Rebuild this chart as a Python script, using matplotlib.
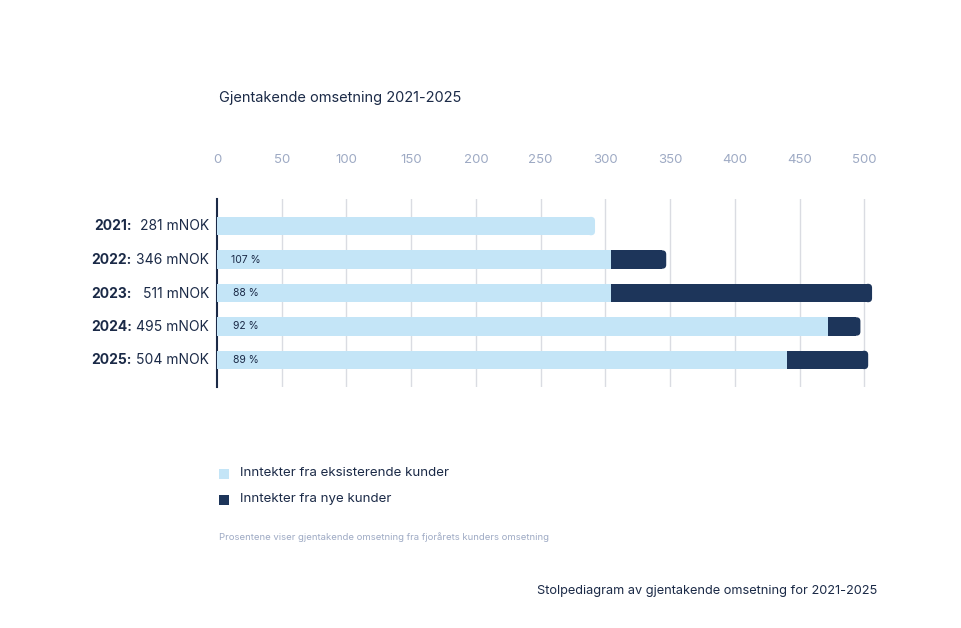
import numpy as np
import matplotlib.pyplot as plt
from matplotlib.patches import FancyBboxPatch

# data
years = ['2021', '2022', '2023', '2024', '2025']
totals = ['281', '346', '511', '495', '504']
existing = [292, 304, 304, 472, 440]
new = [0, 43, 202, 25, 63]
pct = ['', '107 %', '88 %', '92 %', '89 %']
ticks = [0, 50, 100, 150, 200, 250, 300, 350, 400, 450, 500]

light = '#c4e5f7'
dark = '#1d355a'
navy = '#1b2a47'
grey = '#9eaac4'

plt.rcParams['font.family'] = ['Inter', 'DejaVu Sans']

W, H = 962, 628
fig = plt.figure(figsize=(W / 100, H / 100), dpi=100)
fig.patch.set_facecolor('white')

x0, y_top, y_bot = 217, 199.3, 386.7
pxu = 1.2946  # pixels per data unit
xmax = 515
ax = fig.add_axes([x0 / W, 1 - y_bot / H, xmax * pxu / W, (y_bot - y_top) / H])

ypos = np.arange(len(years))
h = 0.55
r = 4 / pxu                       # corner radius in x data units
asp = (1 / 33.5) / (1 / pxu)      # y units per x unit

for i in ypos:
    segs = [(0, existing[i], light), (existing[i], new[i], dark)]
    segs = [s for s in segs if s[1] > 0]
    for k, (left, width, col) in enumerate(segs):
        if k == len(segs) - 1:
            ax.barh(i, width - r, left=left, height=h, color=col, zorder=3)
            end = left + width
            ax.add_patch(FancyBboxPatch((end - 2 * r, i - h / 2), 2 * r, h,
                                        boxstyle=f'round,pad=0,rounding_size={r}',
                                        mutation_aspect=asp, fc=col, ec='none', zorder=3))
        else:
            ax.barh(i, width, left=left, height=h, color=col, zorder=3)
    if pct[i]:
        ax.text(22, i, pct[i], ha='center', va='center', fontsize=7.5, color=navy, zorder=4)

ax.set_xlim(0, xmax)
ax.set_ylim(len(years) - 0.2, -0.8)
ax.xaxis.tick_top()
ax.set_xticks(ticks)
ax.tick_params(axis='x', length=0, pad=24, labelsize=9.5, labelcolor=grey)
ax.set_yticks([])
for t in ticks[1:]:
    ax.axvline(t, color='#dadce2', lw=1, zorder=1)
for s in ['top', 'right', 'bottom']:
    ax.spines[s].set_visible(False)
ax.spines['left'].set_color(navy)
ax.spines['left'].set_linewidth(1.5)

# row labels
for i in ypos:
    yy = 1 - (226.5 + i * 33.5) / H
    fig.text(132 / W, yy, years[i] + ':', ha='right', va='center', fontsize=10,
             fontweight='bold', color=navy)
    fig.text(209 / W, yy, totals[i] + ' mNOK', ha='right', va='center', fontsize=10,
             color=navy)

fig.text(219 / W, 1 - 98 / H, 'Gjentakende omsetning 2021-2025', ha='left', va='center',
         fontsize=10.5, color=navy)

# legend
for j, (lab, col) in enumerate([('Inntekter fra eksisterende kunder', light),
                                ('Inntekter fra nye kunder', dark)]):
    yy = 474 + j * 26
    fig.patches.append(plt.Rectangle((219 / W, 1 - (yy + 5) / H), 10 / W, 10 / H,
                                     transform=fig.transFigure, fc=col, ec='none'))
    fig.text(240 / W, 1 - (yy - 1) / H, lab, ha='left', va='center', fontsize=9.6, color=navy)

fig.text(219 / W, 1 - 537 / H, 'Prosentene viser gjentakende omsetning fra fjorårets kunders omsetning',
         ha='left', va='center', fontsize=6.85, color=grey)
fig.text(877 / W, 1 - 591 / H, 'Stolpediagram av gjentakende omsetning for 2021-2025',
         ha='right', va='center', fontsize=9.2, color=navy)

fig.savefig('out.png', dpi=100)
